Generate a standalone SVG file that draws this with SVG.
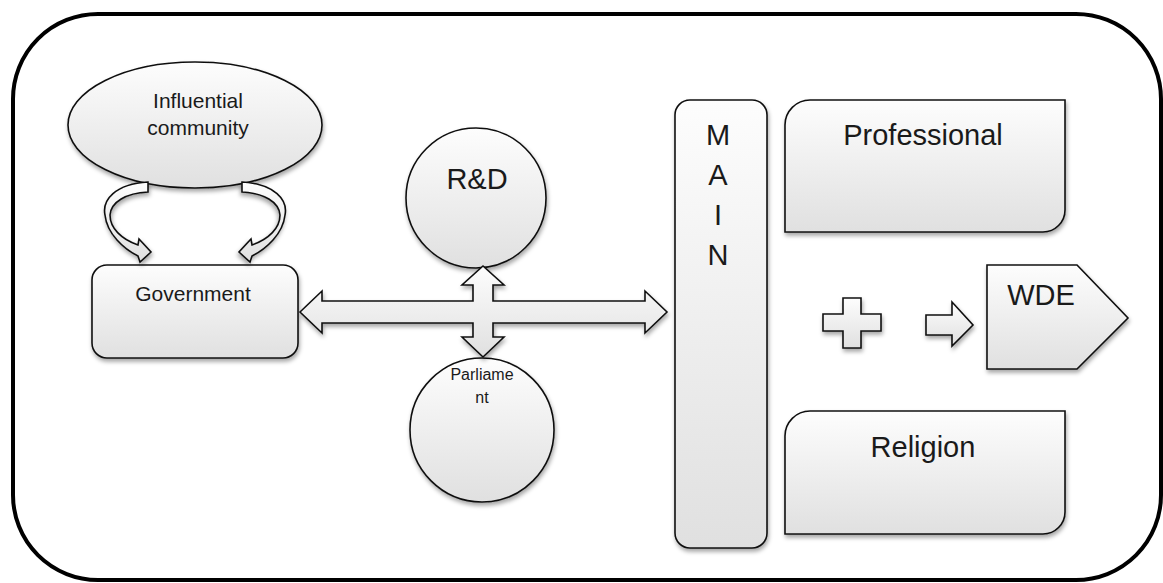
<svg xmlns="http://www.w3.org/2000/svg" width="1163" height="583" viewBox="0 0 1163 583">
  <defs>
    <linearGradient id="shade" x1="0" y1="0" x2="0" y2="1">
      <stop offset="0" stop-color="#fdfdfd"/>
      <stop offset="1" stop-color="#e0e0e0"/>
    </linearGradient>
    <filter id="drop" x="-10%" y="-10%" width="125%" height="130%">
      <feDropShadow dx="1" dy="3" stdDeviation="2" flood-color="#000" flood-opacity="0.35"/>
    </filter>
  </defs>
  <style>
    .shape { fill: url(#shade); stroke: #111; stroke-width: 1.6; filter: url(#drop); }
    .label { font-family: "Liberation Sans", Arial, Helvetica, sans-serif; fill: #1a1a1a; text-anchor: middle; }
    .big { font-size: 29px; }
    .mid { font-size: 21px; }
    .small { font-size: 16px; }
  </style>

  <!-- outer frame -->
  <rect x="13" y="14" width="1148" height="566" rx="85" ry="85" fill="#fff" stroke="#000" stroke-width="4"/>

  <g id="influential-community">
    <ellipse class="shape" cx="195" cy="125" rx="127" ry="63"/>
    <text class="label mid" x="198" y="108">Influential</text>
    <text class="label mid" x="198" y="135">community</text>
  </g>

  <g id="government">
    <rect class="shape" x="92" y="265" width="206" height="93" rx="15" ry="15"/>
    <text class="label mid" x="193" y="301">Government</text>
  </g>

  <g id="rnd">
    <circle class="shape" cx="476" cy="198" r="70"/>
    <text class="label big" x="477" y="189">R&amp;D</text>
  </g>

  <g id="parliament">
    <circle class="shape" cx="482" cy="430" r="72"/>
    <text class="label small" x="482" y="380">Parliame</text>
    <text class="label small" x="482" y="403">nt</text>
  </g>

  <g id="main">
    <rect class="shape" x="675" y="100" width="92" height="448" rx="15" ry="15"/>
    <text class="label big" x="718" y="145">M</text>
    <text class="label big" x="718" y="185">A</text>
    <text class="label big" x="718" y="225">I</text>
    <text class="label big" x="718" y="265">N</text>
  </g>

  <g id="professional">
    <path class="shape" d="M785,232 L785,125 A25,25 0 0 1 810,100 L1065,100 L1065,210 A22,22 0 0 1 1043,232 Z"/>
    <text class="label big" x="923" y="145">Professional</text>
  </g>

  <g id="religion">
    <path class="shape" d="M785,534 L785,436 A25,25 0 0 1 810,411 L1065,411 L1065,512 A22,22 0 0 1 1043,534 Z"/>
    <text class="label big" x="923" y="457">Religion</text>
  </g>

  <g id="plus">
    <polygon class="shape" points="843,298 861,298 861,314 881,314 881,331 861,331 861,348 843,348 843,331 823,331 823,314 843,314"/>
  </g>

  <g id="wde">
    <path class="shape" d="M987,265 L1077,265 L1128,318 L1077,369 L987,369 Z"/>
    <text class="label big" x="1041" y="305">WDE</text>
  </g>

  <g id="connectors">
    <!-- curved loop arrows from the community down to government -->
    <path id="loop-left" class="shape" d="M148,182 C115,184 102,200 105,215 C107,234 124,249 138,256 L140,262 L151,252 L139,239 L138,245 C121,239 110,228 110,215 C111,202 126,193 148,192 Z"/>
    <path id="loop-right" class="shape" transform="matrix(-1,0,0,1,390,0)" d="M148,182 C115,184 102,200 105,215 C107,234 124,249 138,256 L140,262 L151,252 L139,239 L138,245 C121,239 110,228 110,215 C111,202 126,193 148,192 Z"/>
    <!-- four-way double arrow: government / MAIN and R&D / parliament -->
    <polygon id="cross" class="shape" points="300,312 322,291 322,301 473,301 473,285 462,285 483,266 504,285 493,285 493,301 645,301 645,291 667,312 645,333 645,323 493,323 493,337 504,337 483,357 462,337 473,337 473,323 322,323 322,333"/>
    <!-- arrow into WDE -->
    <polygon id="to-wde" class="shape" points="926,315 952,315 952,302 973,325 952,346 952,335 926,335"/>
  </g>
</svg>
